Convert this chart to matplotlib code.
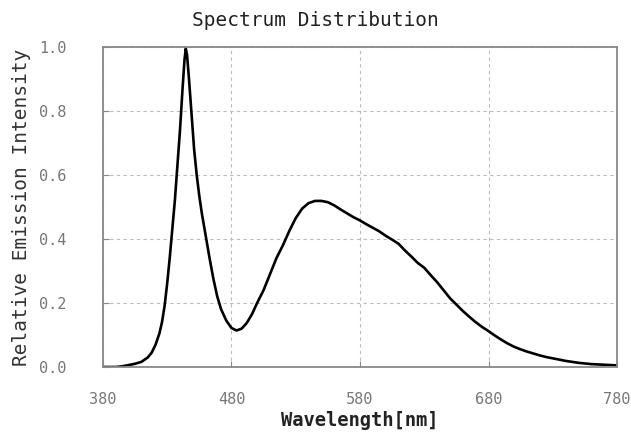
import matplotlib
matplotlib.use("Agg")
import matplotlib.pyplot as plt

wavelength = [380, 390, 395, 400, 405, 410, 415, 418, 421, 424, 426, 428, 430, 432, 434, 436, 438,
              440, 442, 443.5, 444.5, 445.5, 447, 449, 451, 453, 455, 457, 460, 463, 466, 469,
              472, 476, 480, 484, 488, 492, 496, 500, 505, 510, 515, 520, 525, 530, 535, 540, 545,
              550, 555, 560, 565, 570, 575, 580, 585, 590, 595, 600, 605, 610, 615, 620, 625, 630,
              635, 640, 645, 650, 655, 660, 665, 670, 675, 680, 685, 690, 695, 700, 705, 710, 715,
              720, 725, 730, 735, 740, 745, 750, 755, 760, 770, 780]
intensity = [0.0, 0.0, 0.002, 0.006, 0.01, 0.016, 0.03, 0.045, 0.07, 0.105, 0.14, 0.19, 0.26, 0.34,
             0.43, 0.52, 0.63, 0.74, 0.87, 0.96, 0.995, 0.975, 0.9, 0.79, 0.68, 0.6, 0.535, 0.48,
             0.41, 0.34, 0.275, 0.22, 0.18, 0.145, 0.122, 0.114, 0.12, 0.138, 0.165, 0.2, 0.24,
             0.29, 0.34, 0.38, 0.425, 0.465, 0.495, 0.512, 0.519, 0.519, 0.515, 0.505, 0.492, 0.48,
             0.468, 0.458, 0.446, 0.435, 0.424, 0.41, 0.398, 0.385, 0.364, 0.345, 0.325, 0.31,
             0.287, 0.265, 0.24, 0.215, 0.195, 0.175, 0.157, 0.14, 0.125, 0.112, 0.098, 0.085,
             0.073, 0.063, 0.055, 0.048, 0.042, 0.036, 0.031, 0.027, 0.023, 0.019, 0.016, 0.013,
             0.011, 0.009, 0.007, 0.005]
xticks = [380, 480, 580, 680, 780]
yticks = [0.0, 0.2, 0.4, 0.6, 0.8, 1.0]

mono = "DejaVu Sans Mono"
fig = plt.figure(figsize=(6.31, 4.34), dpi=100)
ax = fig.add_axes([0.163, 0.1544, 0.815, 0.7373])
ax.plot(wavelength, intensity, color="black", linewidth=1.9, solid_joinstyle="round")
ax.set_xlim(380, 780)
ax.set_ylim(0, 1.0)
ax.set_xticks(xticks)
ax.set_yticks(yticks)
ax.set_yticklabels([f"{v:.1f}" for v in yticks])
ax.grid(True, linestyle=(0, (3, 3)), color="#bbbbbb", linewidth=0.8)
for s in ax.spines.values():
    s.set_color("#888888")
    s.set_linewidth(1.3)
ax.tick_params(direction="in", length=4, color="#888888", labelcolor="#777777",
               labelsize=11, pad=18)
ax.tick_params(axis="y", pad=26)
for lab in ax.get_xticklabels() + ax.get_yticklabels():
    lab.set_family(mono)
fig.text(0.5, 0.953, "Spectrum Distribution", ha="center", va="center",
         fontsize=14, family=mono, color="#222222")
ax.set_xlabel("Wavelength[nm]", fontsize=13.5, family=mono, fontweight="bold",
              color="#222222", labelpad=3)
ax.set_ylabel("Relative Emission Intensity", fontsize=14, family=mono,
              color="#333333", labelpad=6)
fig.savefig("out.png", dpi=100)
